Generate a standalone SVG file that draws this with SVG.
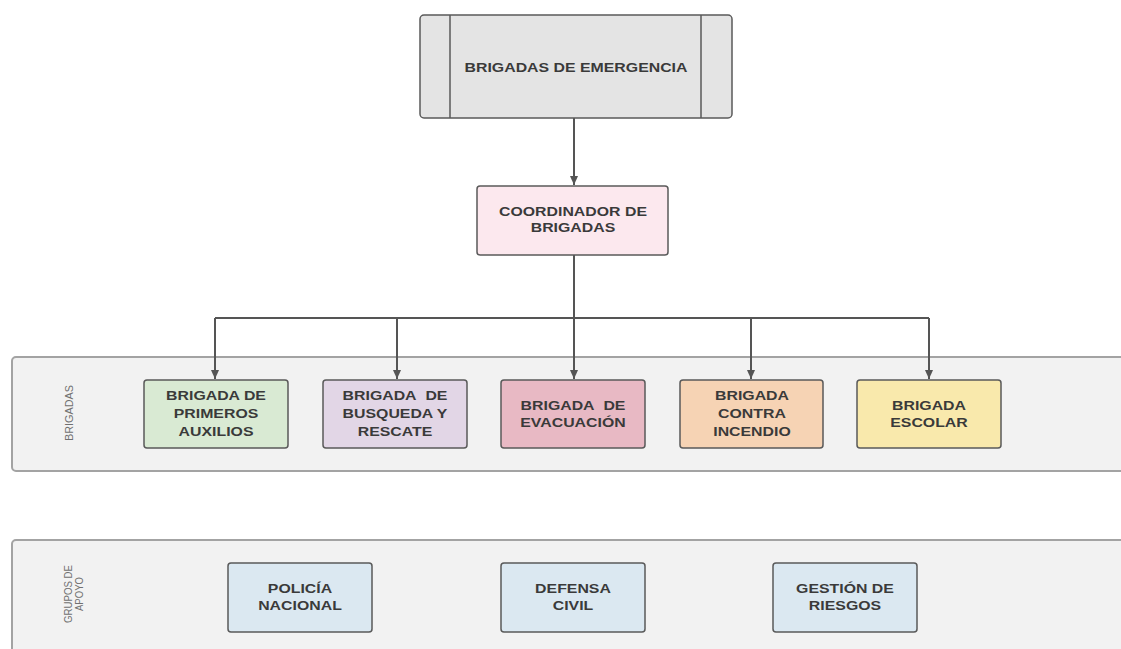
<svg xmlns="http://www.w3.org/2000/svg" width="1121" height="649" viewBox="0 0 1121 649">
<defs>
<marker id="arr" markerWidth="10" markerHeight="10" refX="9" refY="5" orient="auto" markerUnits="userSpaceOnUse" viewBox="0 0 10 10">
<path d="M0,1 L9,5 L0,9 Z" fill="#555"/>
</marker>
</defs>
<style>
.lane{fill:#f2f2f2;stroke:#a3a3a3;stroke-width:2}
.box{stroke:#5a5a5a;stroke-width:1.5}
.t{font-family:"Liberation Sans",Arial,sans-serif;font-weight:bold;font-size:13px;fill:#3a3a3a;text-anchor:middle}
.lbl{font-family:"Liberation Sans",Arial,sans-serif;font-size:10.5px;fill:#707070;text-anchor:middle}
.c{fill:none;stroke:#555;stroke-width:2}
</style>
<rect width="1121" height="649" fill="#ffffff"/>
<g id="lane-brigadas">
<rect class="lane" x="12" y="357" width="1120" height="114" rx="4"/>
<text class="lbl" transform="translate(73,413) rotate(-90)" textLength="56" lengthAdjust="spacingAndGlyphs">BRIGADAS</text>
</g>
<g id="lane-apoyo">
<rect class="lane" x="12" y="540" width="1120" height="120" rx="4"/>
<text class="lbl" transform="translate(72,594) rotate(-90)" textLength="58" lengthAdjust="spacingAndGlyphs">GRUPOS DE</text>
<text class="lbl" transform="translate(83,594) rotate(-90)" textLength="34" lengthAdjust="spacingAndGlyphs">APOYO</text>
</g>
<g id="connectors">
<path class="c" d="M574,118 V185" marker-end="url(#arr)"/>
<path class="c" d="M574,255 V318"/>
<path class="c" d="M215,318 H929"/>
<path class="c" d="M215,318 V379" marker-end="url(#arr)"/>
<path class="c" d="M397,318 V379" marker-end="url(#arr)"/>
<path class="c" d="M574,318 V379" marker-end="url(#arr)"/>
<path class="c" d="M751,318 V379" marker-end="url(#arr)"/>
<path class="c" d="M929,318 V379" marker-end="url(#arr)"/>
</g>
<g id="brigadas-emergencia">
<rect class="box" x="420" y="15" width="312" height="103" rx="4" fill="#e4e4e4"/>
<line x1="450" y1="15" x2="450" y2="118" stroke="#5a5a5a" stroke-width="1.5"/>
<line x1="701" y1="15" x2="701" y2="118" stroke="#5a5a5a" stroke-width="1.5"/>
<text class="t" transform="translate(576,72) scale(1.22,1)">BRIGADAS DE EMERGENCIA</text>
</g>
<g id="coordinador">
<rect class="box" x="477" y="186" width="191" height="69" rx="3" fill="#fce8ee"/>
<text class="t" transform="translate(573,216) scale(1.22,1)">COORDINADOR DE</text>
<text class="t" transform="translate(573,232) scale(1.22,1)">BRIGADAS</text>
</g>
<g id="primeros-auxilios">
<rect class="box" x="144" y="380" width="144" height="68" rx="3" fill="#d9ead3"/>
<text class="t" transform="translate(216,400) scale(1.22,1)">BRIGADA DE</text>
<text class="t" transform="translate(216,418) scale(1.22,1)">PRIMEROS</text>
<text class="t" transform="translate(216,436) scale(1.22,1)">AUXILIOS</text>
</g>
<g id="busqueda-rescate">
<rect class="box" x="323" y="380" width="144" height="68" rx="3" fill="#e2d6e6"/>
<text class="t" transform="translate(395,400) scale(1.22,1)">BRIGADA&#160; DE</text>
<text class="t" transform="translate(395,418) scale(1.22,1)">BUSQUEDA Y</text>
<text class="t" transform="translate(395,436) scale(1.22,1)">RESCATE</text>
</g>
<g id="evacuacion">
<rect class="box" x="501" y="380" width="144" height="68" rx="3" fill="#e8b9c4"/>
<text class="t" transform="translate(573,410) scale(1.22,1)">BRIGADA&#160; DE</text>
<text class="t" transform="translate(573,427) scale(1.22,1)">EVACUACIÓN</text>
</g>
<g id="contra-incendio">
<rect class="box" x="680" y="380" width="143" height="68" rx="3" fill="#f6d3b4"/>
<text class="t" transform="translate(752,400) scale(1.22,1)">BRIGADA</text>
<text class="t" transform="translate(752,418) scale(1.22,1)">CONTRA</text>
<text class="t" transform="translate(752,436) scale(1.22,1)">INCENDIO</text>
</g>
<g id="escolar">
<rect class="box" x="857" y="380" width="144" height="68" rx="3" fill="#f9e9ac"/>
<text class="t" transform="translate(929,410) scale(1.22,1)">BRIGADA</text>
<text class="t" transform="translate(929,427) scale(1.22,1)">ESCOLAR</text>
</g>
<g id="policia">
<rect class="box" x="228" y="563" width="144" height="69" rx="3" fill="#dbe8f1"/>
<text class="t" transform="translate(300,593) scale(1.22,1)">POLICÍA</text>
<text class="t" transform="translate(300,610) scale(1.22,1)">NACIONAL</text>
</g>
<g id="defensa-civil">
<rect class="box" x="501" y="563" width="144" height="69" rx="3" fill="#dbe8f1"/>
<text class="t" transform="translate(573,593) scale(1.22,1)">DEFENSA</text>
<text class="t" transform="translate(573,610) scale(1.22,1)">CIVIL</text>
</g>
<g id="gestion-riesgos">
<rect class="box" x="773" y="563" width="144" height="69" rx="3" fill="#dbe8f1"/>
<text class="t" transform="translate(845,593) scale(1.22,1)">GESTIÓN DE</text>
<text class="t" transform="translate(845,610) scale(1.22,1)">RIESGOS</text>
</g>
</svg>
